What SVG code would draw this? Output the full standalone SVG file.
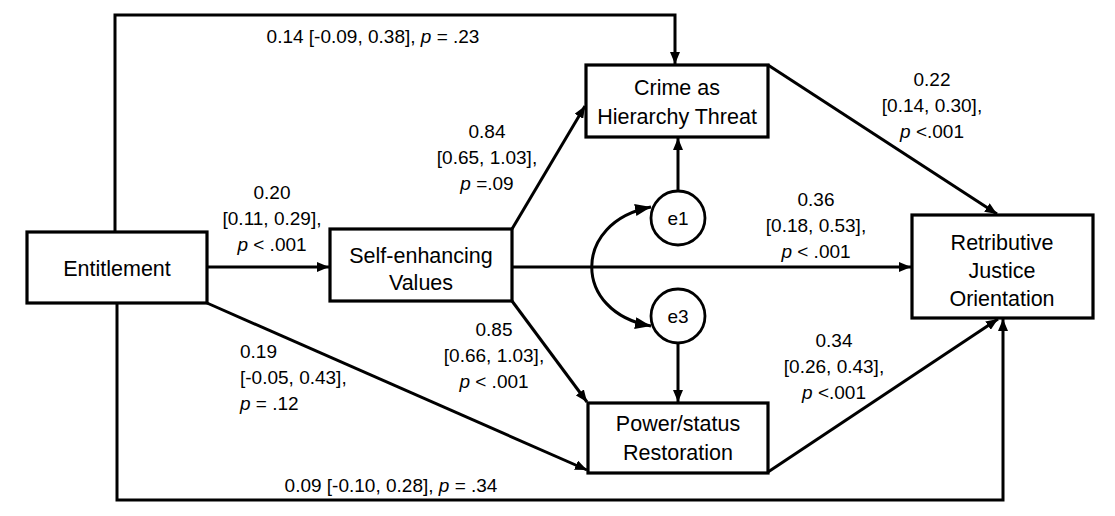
<svg xmlns="http://www.w3.org/2000/svg" width="1115" height="516" viewBox="0 0 1115 516">
<style>
.box{fill:#fff;stroke:#000;stroke-width:3.2}
.circ{fill:#fff;stroke:#000;stroke-width:2.8}
.ln{fill:none;stroke:#000;stroke-width:3}
.nt{font-family:"Liberation Sans",Arial,sans-serif;font-size:21.5px;fill:#000;text-anchor:middle}
.lb{font-family:"Liberation Sans",Arial,sans-serif;font-size:19px;fill:#000;text-anchor:middle}
.lbl{font-family:"Liberation Sans",Arial,sans-serif;font-size:19px;fill:#000;text-anchor:start}
.it{font-style:italic}
</style>
<defs>
<marker id="arr" viewBox="0 0 12 10" refX="12" refY="5" markerWidth="12" markerHeight="10" markerUnits="userSpaceOnUse" orient="auto-start-reverse">
<path d="M0,0 L12,5 L0,10 z" fill="#000"/>
</marker>
<marker id="arrb" viewBox="0 0 16 12" refX="16" refY="6" markerWidth="16" markerHeight="12" markerUnits="userSpaceOnUse" orient="auto-start-reverse">
<path d="M0,0 L16,6 L0,12 z" fill="#000"/>
</marker>
</defs>
<rect width="1115" height="516" fill="#fff"/>
<g id="connectors">
<path class="ln" d="M115,232 V15 H675 V64" marker-end="url(#arr)"/>
<path class="ln" d="M207,267 H329" marker-end="url(#arr)"/>
<path class="ln" d="M512,229 L585,106" marker-end="url(#arr)"/>
<path class="ln" d="M512,301 L587,402" marker-end="url(#arr)"/>
<path class="ln" d="M512,267 H911" marker-end="url(#arr)"/>
<path class="ln" d="M207,303 L587,470" marker-end="url(#arr)"/>
<path class="ln" d="M117,303 V500 H1003 V319" marker-end="url(#arr)"/>
<path class="ln" d="M768,65 L997,214" marker-end="url(#arr)"/>
<path class="ln" d="M768,472 L998,319" marker-end="url(#arr)"/>
<path class="ln" d="M678,191 V138" marker-end="url(#arr)"/>
<path class="ln" d="M678,343 V402" marker-end="url(#arr)"/>
<path class="ln" d="M651,207 C572,222 572,312 651,326" marker-start="url(#arrb)" marker-end="url(#arrb)"/>
</g>
<g id="entitlement">
<rect class="box" x="27" y="232" width="180" height="71"/>
<text class="nt" x="117" y="276">Entitlement</text>
</g>
<g id="self-enhancing">
<rect class="box" x="330" y="229" width="182" height="72"/>
<text class="nt" x="421" y="263">Self-enhancing</text>
<text class="nt" x="421" y="290">Values</text>
</g>
<g id="crime">
<rect class="box" x="586" y="65" width="182" height="72"/>
<text class="nt" x="677" y="95">Crime as</text>
<text class="nt" x="677" y="124">Hierarchy Threat</text>
</g>
<g id="power">
<rect class="box" x="588" y="403" width="180" height="70"/>
<text class="nt" x="678" y="431">Power/status</text>
<text class="nt" x="678" y="460">Restoration</text>
</g>
<g id="retributive">
<rect class="box" x="912" y="215" width="181" height="103"/>
<text class="nt" x="1002" y="250">Retributive</text>
<text class="nt" x="1002" y="278">Justice</text>
<text class="nt" x="1002" y="306">Orientation</text>
</g>
<g id="e1">
<circle class="circ" cx="678" cy="218" r="27"/>
<text class="lb" x="678" y="225">e1</text>
</g>
<g id="e3">
<circle class="circ" cx="678" cy="316" r="27"/>
<text class="lb" x="678" y="323">e3</text>
</g>
<g id="labels">
<text class="lb" x="373" y="43">0.14 [-0.09, 0.38], <tspan class="it">p</tspan> = .23</text>
<text class="lb" x="272" y="199">0.20</text>
<text class="lb" x="272" y="225">[0.11, 0.29],</text>
<text class="lb" x="272" y="251"><tspan class="it">p</tspan> &lt; .001</text>
<text class="lb" x="487" y="138">0.84</text>
<text class="lb" x="487" y="164">[0.65, 1.03],</text>
<text class="lb" x="487" y="190"><tspan class="it">p</tspan> =.09</text>
<text class="lb" x="932" y="86">0.22</text>
<text class="lb" x="932" y="112">[0.14, 0.30],</text>
<text class="lb" x="932" y="138"><tspan class="it">p</tspan> &lt;.001</text>
<text class="lb" x="816" y="206">0.36</text>
<text class="lb" x="816" y="232">[0.18, 0.53],</text>
<text class="lb" x="816" y="258"><tspan class="it">p</tspan> &lt; .001</text>
<text class="lb" x="494" y="336">0.85</text>
<text class="lb" x="494" y="362">[0.66, 1.03],</text>
<text class="lb" x="494" y="388"><tspan class="it">p</tspan> &lt; .001</text>
<text class="lbl" x="240" y="358">0.19</text>
<text class="lbl" x="240" y="384">[-0.05, 0.43],</text>
<text class="lbl" x="240" y="410"><tspan class="it">p</tspan> = .12</text>
<text class="lb" x="834" y="347">0.34</text>
<text class="lb" x="834" y="373">[0.26, 0.43],</text>
<text class="lb" x="834" y="399"><tspan class="it">p</tspan> &lt;.001</text>
<text class="lb" x="391" y="492">0.09 [-0.10, 0.28], <tspan class="it">p</tspan> = .34</text>
</g>
</svg>
